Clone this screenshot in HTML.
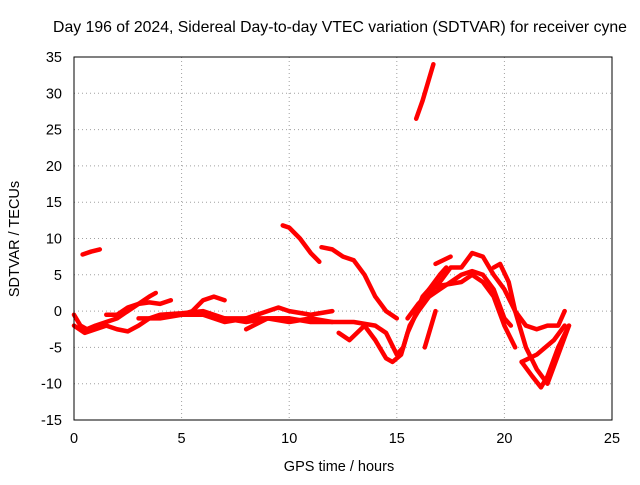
<!DOCTYPE html>
<html><head><meta charset="utf-8"><style>
body{margin:0;background:#fff}
svg{font-family:"Liberation Sans",sans-serif}
</style></head><body>
<svg id="chart" width="640" height="480" viewBox="0 0 640 480">
<text x="340" y="32" font-size="15.8" text-anchor="middle">Day 196 of 2024, Sidereal Day-to-day VTEC variation (SDTVAR) for receiver cyne</text>
<text x="339" y="471" font-size="14.5" text-anchor="middle">GPS time / hours</text>
<text transform="translate(19,239) rotate(-90)" font-size="14.5" text-anchor="middle">SDTVAR / TECUs</text>
<g id="grid"></g><g id="series"></g>
<rect x="74" y="57" width="538" height="363" fill="none" stroke="#000"/>
</svg>
<script>
const xTicks=[0,5,10,15,20,25];
const yTicks=[-15,-10,-5,0,5,10,15,20,25,30,35];
const tracks=[
 [[0.4,7.8],[0.8,8.2],[1.2,8.5]],
 [[0,-0.5],[0.3,-2],[0.6,-2.5],[1,-2],[1.5,-1.5],[2,-1],[2.5,0],[3,1],[3.5,2],[3.8,2.5]],
 [[0,-2],[0.5,-3],[1,-2.5],[1.5,-2],[2,-2.5],[2.5,-2.8],[3,-2],[3.5,-1],[4,-0.5],[5,-0.3],[6,0],[7,-1],[8,-1.5],[9,-1],[10,-1],[11,-1.5],[12,-1.5]],
 [[1.5,-0.5],[2,-0.5],[2.5,0.5],[3,1],[3.5,1.2],[4,1],[4.5,1.5]],
 [[3,-1],[4,-1],[5,-0.5],[5.5,0],[6,1.5],[6.5,2],[7,1.5]],
 [[5,-0.5],[6,-0.5],[7,-1.5],[8,-1],[9,0],[9.5,0.5],[10,0],[11,-0.5],[12,0]],
 [[7,-1],[8,-1],[9,-1],[10,-1.5],[11,-1],[12,-1.5],[13,-1.5],[14,-2],[14.5,-3],[15,-6],[15.3,-5],[15.6,-2],[16,0],[16.5,3],[17,5],[17.3,6]],
 [[8,-2.5],[9,-1],[10,-1]],
 [[9.7,11.8],[10,11.5],[10.5,10],[11,8],[11.4,6.8]],
 [[11.5,8.8],[12,8.5],[12.5,7.5],[13,7],[13.5,5],[14,2],[14.5,0],[15,-1]],
 [[12.3,-3],[12.8,-4],[13.5,-2],[14,-4],[14.5,-6.5],[14.8,-7],[15.2,-6],[15.5,-3],[15.8,-1],[16.2,2],[16.5,3],[17,3.5],[18,4],[18.5,5],[19,4],[19.5,2],[20,-2],[20.5,-5]],
 [[15.9,26.5],[16.2,29],[16.5,32],[16.7,34]],
 [[16.3,-5],[16.5,-3],[16.8,0]],
 [[16,0],[16.5,2],[17,3],[17.5,4],[18,5],[18.5,5.5],[19,5],[19.5,3],[20,-1],[20.3,-2]],
 [[16.8,6.5],[17.5,7.5]],
 [[15.5,-1],[16,1],[17,4],[17.5,6],[18,6],[18.5,8],[19,7.5],[19.5,5],[20,3],[20.5,0],[21,-5],[21.5,-8],[22,-10],[22.5,-6],[23,-2]],
 [[19.5,6],[19.8,6.5],[20.2,4],[20.5,0],[21,-2],[21.5,-2.5],[22,-2],[22.5,-2],[22.8,0]],
 [[20.8,-7],[21.3,-9],[21.7,-10.5],[22,-9],[22.5,-5],[23,-2]],
 [[20.8,-7],[21.5,-6],[22.3,-4],[22.8,-2]]
];
const NS="http://www.w3.org/2000/svg";
const X=v=>74+v*538/25, Y=v=>420-(v+15)*363/50;
const g=document.getElementById('grid'), s=document.getElementById('series');
function mk(tag,at,p){const e=document.createElementNS(NS,tag);for(const k in at)e.setAttribute(k,at[k]);p.appendChild(e);return e;}
xTicks.forEach(t=>{
 const l=mk('line',{x1:X(t),x2:X(t),y1:57,y2:420,stroke:'#a0a0a0','stroke-dasharray':'1,3'},g);
 
 
 const tx=mk('text',{x:X(t),y:443,'font-size':14.5,'text-anchor':'middle'},g);tx.textContent=t;
 
 
});
yTicks.forEach(t=>{
 const l=mk('line',{x1:74,x2:612,y1:Y(t),y2:Y(t),stroke:'#a0a0a0','stroke-dasharray':'1,3'},g);
 
 
 const tx=mk('text',{x:62,y:Y(t)+5,'font-size':14.5,'text-anchor':'end'},g);tx.textContent=t;
 
 
});
tracks.forEach(tr=>{
 const p=mk('polyline',{points:tr.map(d=>X(d[0])+','+Y(d[1])).join(' '),fill:'none',stroke:'#f00','stroke-width':4.5,'stroke-linejoin':'round','stroke-linecap':'round'},s);
 
 
});
</script>
</body></html>
